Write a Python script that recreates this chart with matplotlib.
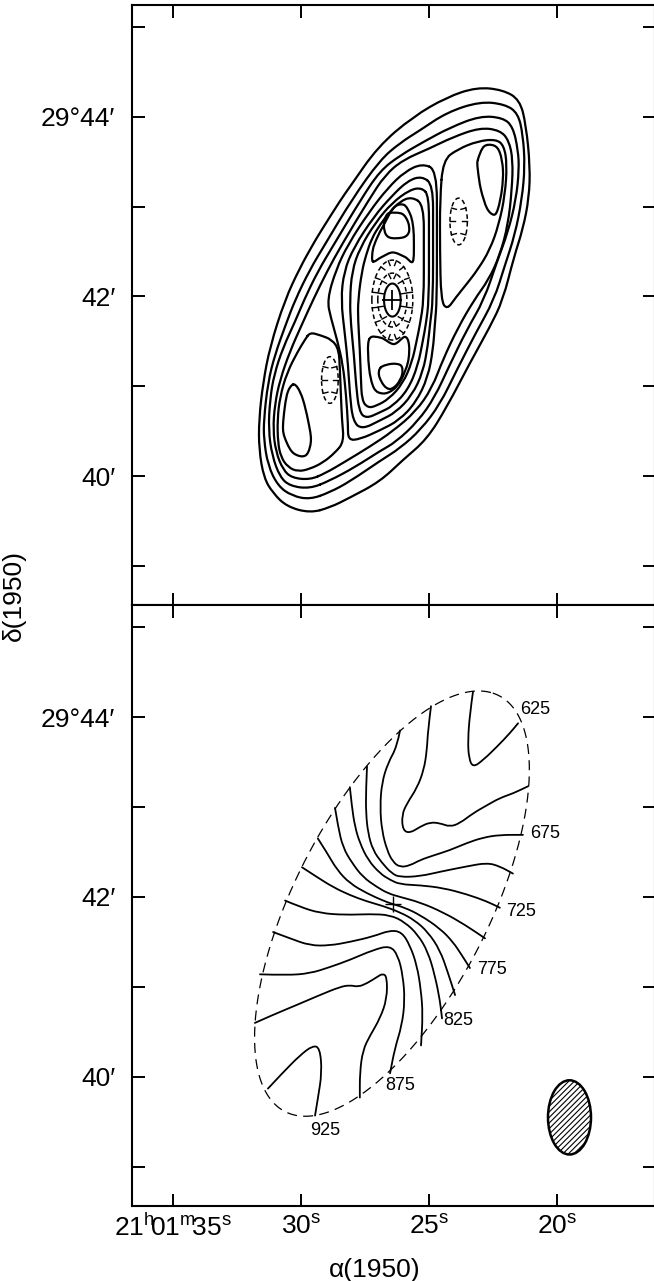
import numpy as np
import matplotlib
matplotlib.use("Agg")
import matplotlib.pyplot as plt
from matplotlib.patches import Ellipse, PathPatch
from matplotlib.path import Path

plt.rcParams['font.family'] = ['Liberation Sans', 'DejaVu Sans']
plt.rcParams['mathtext.fontset'] = 'custom'
plt.rcParams['mathtext.rm'] = 'Liberation Sans'
plt.rcParams['axes.linewidth'] = 1.5
plt.rcParams['hatch.linewidth'] = 0.8

# ---------------- axes ----------------
ra_lim = (36.60, 16.17)          # seconds of RA (21h01m..)
dec_lim = (38.565, 45.245)       # arcmin of Dec (29d..)
ra_ticks = [35, 30, 25, 20]
ra_labels = [r'$\mathrm{21^{h}\!01^{m}\!35^{s}}$', r'$\mathrm{30^{s}}$',
             r'$\mathrm{25^{s}}$', r'$\mathrm{20^{s}}$']
dec_ticks = [39, 40, 41, 42, 43, 44, 45]
dec_labels = ['', "40′", '', "42′", '', "29°44′", '']

# ---------------- top panel: total intensity contours (RA s, Dec arcmin) ----------------
top_c1 = [(29.65,39.59),(30.55,39.66),(31.09,39.81),(31.45,39.98),(31.64,40.30),(31.64,40.63),
          (31.48,41.04),(31.21,41.44),(30.63,41.96),(30.04,42.32),(29.53,42.58),(29.26,42.71),
          (28.44,43.08),(28.09,43.22),(26.99,43.67),(25.63,44.00),(24.30,44.22),(23.13,44.33),
          (22.11,44.30),(21.45,44.19),(21.21,43.91),(21.05,43.45),(21.09,43.10),(21.33,42.75),
          (21.68,42.44),(22.11,41.96),(22.62,41.66),(23.40,41.26),(24.30,40.77),(25.08,40.41),
          (26.02,40.18),(26.91,39.94),(28.09,39.76),(28.87,39.65)]
top_c2 = [(29.65,39.74),(30.35,39.78),(30.90,39.89),(31.29,40.12),(31.45,40.41),(31.45,40.63),
          (31.29,41.04),(31.02,41.35),(30.59,41.69),(30.23,41.96),(29.65,42.30),(29.06,42.58),
          (28.01,43.08),(26.91,43.52),(26.13,43.71),(25.35,43.85),(24.30,44.05),(23.01,44.17),
          (22.03,44.14),(21.52,44.04),(21.33,43.80),(21.25,43.45),(21.37,43.08),(21.64,42.69),
          (22.03,42.35),(22.46,41.96),(23.16,41.60),(23.95,41.16),(24.57,40.80),(25.31,40.52),
          (26.13,40.31),(26.91,40.17),(28.09,39.94),(28.87,39.82)]
top_c3 = [(29.65,39.86),(30.43,39.89),(30.82,39.99),(31.13,40.23),(31.27,40.52),(31.21,40.85),
          (31.05,41.13),(30.70,41.43),(30.23,41.72),(29.88,41.96),(29.34,42.28),(28.71,42.58),
          (27.66,43.08),(26.91,43.40),(26.13,43.57),(25.16,43.73),(24.18,43.88),(23.01,44.01),
          (22.11,43.99),(21.72,43.89),(21.52,43.63),(21.48,43.41),(21.60,43.08),(21.91,42.72),
          (22.34,42.39),(22.85,41.96),(23.52,41.63),(24.22,41.22),(24.77,40.88),(25.43,40.61),
          (26.29,40.38),(26.91,40.28),(27.89,40.10),(28.87,39.95)]
top_c4 = [(29.65,39.96),(30.35,39.98),(30.70,40.07),(30.98,40.27),(31.09,40.52),(31.02,40.80),
          (30.82,41.07),(30.43,41.39),(29.96,41.69),(29.53,41.96),(28.98,42.28),(28.40,42.58),
          (27.34,43.08),(26.72,43.35),(26.02,43.52),(24.96,43.65),(24.10,43.77),(23.01,43.88),
          (22.23,43.85),(21.88,43.74),(21.72,43.52),(21.76,43.19),(21.91,42.80),(22.23,42.46),
          (22.66,42.19),(23.24,41.96),(23.87,41.65),(24.45,41.30),(24.88,40.98),(25.51,40.72),
          (26.41,40.50),(27.30,40.33),(28.28,40.16),(29.06,40.03)]
top_ur_outer = [(24.45,43.52),(23.87,43.64),(23.09,43.73),(22.38,43.75),(22.07,43.68),(21.95,43.47),
                (22.03,43.13),(22.27,42.80),(22.62,42.52),(23.09,42.30),(23.55,42.13),(23.95,41.99),
                (24.30,41.85),(24.53,41.96),(24.57,42.52),(24.57,43.08)]
top_ur_peak = [(23.09,43.52),(22.85,43.67),(22.46,43.68),(22.23,43.60),(22.11,43.41),(22.15,43.19),
               (22.30,42.98),(22.46,42.91),(22.73,42.98),(22.97,43.19),(23.09,43.41)]
top_ll_outer = [(29.65,41.60),(29.26,41.57),(28.79,41.52),(28.52,41.41),(28.48,41.19),(28.44,40.91),
                (28.40,40.63),(28.32,40.38),(28.67,40.26),(29.14,40.15),(29.65,40.08),(30.12,40.05),
                (30.51,40.10),(30.78,40.21),(30.90,40.37),(30.92,40.63),(30.82,40.88),(30.55,41.15),
                (30.12,41.39),(29.84,41.52)]
top_ll_peak = [(30.31,41.02),(30.12,40.98),(29.92,40.85),(29.73,40.63),(29.61,40.41),(29.73,40.26),
               (29.96,40.22),(30.31,40.26),(30.55,40.37),(30.70,40.52),(30.63,40.77),(30.51,40.94)]
top_cr1 = [(24.69,43.41),(24.69,42.74),(24.69,41.96),(24.77,41.69),(24.84,41.41),(25.04,41.10),
           (25.51,40.82),(26.17,40.62),(26.91,40.51),(27.70,40.41),(28.16,40.40),(28.16,40.57),
           (28.24,40.91),(28.36,41.24),(28.59,41.52),(28.83,41.76),(28.98,41.96),(28.63,42.30),
           (28.16,42.58),(27.34,42.94),(26.60,43.21),(25.94,43.39),(25.27,43.48)]
top_cr2 = [(24.84,43.24),(24.84,42.74),(24.84,41.96),(24.96,41.69),(25.04,41.46),(25.23,41.16),
           (25.66,40.90),(26.29,40.71),(26.91,40.62),(27.62,40.52),(27.97,40.61),(28.09,40.91),
           (28.16,41.24),(28.28,41.57),(28.44,41.96),(28.32,42.28),(27.93,42.55),(27.15,42.89),
           (26.45,43.12),(25.82,43.29),(25.27,43.34)]
top_cr3 = [(25.00,43.12),(25.00,42.63),(25.00,41.96),(25.12,41.69),(25.23,41.52),(25.43,41.23),
           (25.82,40.96),(26.41,40.78),(26.91,40.71),(27.46,40.64),(27.73,40.72),(27.85,41.02),
           (27.93,41.35),(28.05,41.69),(28.09,41.96),(28.01,42.28),(27.70,42.54),(27.07,42.83),
           (26.45,43.04),(25.74,43.19),(25.27,43.21)]
top_cr4 = [(25.20,43.02),(25.20,42.52),(25.20,41.96),(25.35,41.69),(25.47,41.52),(25.66,41.27),
           (26.02,41.03),(26.56,40.86),(27.07,40.78),(27.38,40.76),(27.62,40.84),(27.66,41.10),
           (27.70,41.41),(27.77,41.74),(27.77,41.96),(27.62,42.28),(27.46,42.46),(27.23,42.65),
           (26.91,42.80),(26.56,42.93),(26.13,43.06),(25.66,43.11)]
top_up_cres = [(27.19,42.39),(27.19,42.52),(27.03,42.65),(26.76,42.80),(26.37,42.99),(25.98,43.02),
               (25.74,42.92),(25.63,42.80),(25.59,42.63),(25.63,42.39),(25.94,42.44),(26.41,42.49),
               (26.84,42.44)]
top_up_peak = [(26.52,42.93),(26.05,42.92),(25.82,42.83),(25.78,42.72),(25.98,42.66),(26.45,42.65),
               (26.68,42.69),(26.76,42.79),(26.68,42.89)]
top_lo_cres = [(27.34,41.52),(26.88,41.54),(26.37,41.47),(25.94,41.55),(25.78,41.46),(25.82,41.27),
               (26.09,41.07),(26.41,40.96),(26.80,40.92),(27.15,40.98),(27.34,41.21)]
top_lo_peak = [(26.88,41.21),(26.45,41.25),(26.09,41.23),(26.05,41.13),(26.25,41.02),(26.52,40.97),
               (26.76,41.01),(26.95,41.12)]
# broad, nested contours (drawn as smooth B-spline) and small closed features (drawn through points)
top_broad = [top_c1, top_c2, top_c3, top_c4, top_ur_outer, top_ll_outer,
             top_cr1, top_cr2, top_cr3, top_cr4]
top_small = [top_ur_peak, top_ll_peak, top_up_cres, top_up_peak, top_lo_cres, top_lo_peak]

# depressions (hachured): centre RA, centre Dec, semi-axis RA (s), semi-axis Dec (arcmin), n ticks
hach_centre = [26.43, 41.96]
hach_rings = [(26.43, 41.96, 0.80, 0.445, 16), (26.43, 41.96, 0.57, 0.30, 12),
              (23.84, 42.835, 0.34, 0.26, 6), (28.87, 41.07, 0.325, 0.26, 6)]
solid_core = (26.43, 41.96, 0.325, 0.184)

# ---------------- bottom panel: velocity field (km/s) ----------------
vel_levels = [625, 650, 675, 700, 725, 750, 775, 800, 825, 850, 875, 900, 925]
v625 = [(23.28,44.28),(23.40,44.04),(23.48,43.74),(23.44,43.54),(23.28,43.44),(22.89,43.52),
        (22.34,43.67),(21.84,43.82),(21.52,43.93)]
v650 = [(24.92,44.12),(25.04,43.85),(25.08,43.63),(25.20,43.41),(25.47,43.21),(25.86,43.04),
        (26.06,42.91),(26.02,42.74),(25.74,42.71),(25.35,42.78),(24.96,42.83),(24.57,42.82),
        (24.18,42.78),(23.79,42.82),(23.28,42.93),(22.73,43.02),(22.23,43.10),(21.72,43.15),(21.13,43.23)]
v675 = [(26.13,43.85),(26.25,43.67),(26.60,43.49),(26.84,43.27),(26.91,43.00),(26.84,42.74),
        (26.64,42.52),(26.41,42.39),(26.13,42.33),(25.74,42.35),(25.35,42.41),(24.84,42.46),
        (24.18,42.52),(23.52,42.60),(22.89,42.66),(22.23,42.69),(21.33,42.69)]
v700 = [(27.42,43.45),(27.46,43.19),(27.46,42.93),(27.38,42.71),(27.19,42.52),(26.84,42.38),
        (26.45,42.26),(26.13,42.22),(25.35,42.23),(24.57,42.28),(23.52,42.34),(22.73,42.38),
        (22.23,42.34),(21.72,42.26)]
v725 = [(28.09,43.22),(28.01,43.00),(27.89,42.78),(27.70,42.60),(27.38,42.41),(26.91,42.26),
        (26.52,42.19),(26.13,42.14),(25.35,42.13),(24.45,42.10),(23.52,42.03),(22.73,41.95),(22.23,41.88)]
v750 = [(28.67,42.99),(28.55,42.78),(28.36,42.55),(28.01,42.38),(27.58,42.22),(27.03,42.11),
        (26.60,42.04),(26.13,42.00),(25.35,41.94),(24.45,41.83),(23.59,41.69),(22.81,41.54)]
v775 = [(29.34,42.65),(28.98,42.49),(28.59,42.30),(28.09,42.15),(27.42,42.04),(26.80,41.96),
        (26.41,41.92),(25.94,41.88),(25.35,41.80),(24.57,41.65),(24.06,41.50),(23.71,41.35),(23.40,41.21)]
v800 = [(29.96,42.33),(29.37,42.22),(28.75,42.11),(28.09,42.02),(27.42,41.95),(26.80,41.90),
        (26.13,41.83),(25.55,41.74),(25.04,41.61),(24.57,41.41),(24.26,41.16),(23.98,40.91)]
v825 = [(30.62,41.96),(30.04,41.89),(29.26,41.82),(28.28,41.80),(27.30,41.81),(26.52,41.80),
        (25.94,41.72),(25.43,41.58),(25.04,41.39),(24.77,41.13),(24.57,40.85),(24.49,40.65)]
v850 = [(31.09,41.61),(30.43,41.54),(29.65,41.46),(28.87,41.46),(28.09,41.50),(27.19,41.56),
        (26.52,41.63),(26.06,41.61),(25.74,41.46),(25.47,41.24),(25.31,40.96),(25.24,40.69),(25.31,40.35)]
v875 = [(31.60,41.14),(30.55,41.13),(29.65,41.15),(28.87,41.22),(28.09,41.30),(27.19,41.41),
        (26.52,41.46),(26.21,41.35),(26.02,41.13),(25.94,40.85),(26.06,40.57),(26.33,40.32),(26.52,40.04)]
v900 = [(31.80,40.60),(31.09,40.69),(30.16,40.80),(29.26,40.91),(28.48,41.00),(28.09,41.02),
        (27.77,41.00),(27.42,41.04),(27.03,41.11),(26.80,41.15),(26.64,41.11),(26.64,40.87),
        (26.91,40.65),(27.30,40.46),(27.58,40.30),(27.70,40.05),(27.70,39.77)]
v925 = [(31.29,39.87),(30.70,40.05),(30.04,40.24),(29.53,40.35),(29.26,40.32),(29.18,40.05),
        (29.34,39.76),(29.45,39.57)]
vel_lines = [v625, v650, v675, v700, v725, v750, v775, v800, v825, v850, v875, v900, v925]
vel_label_text = ['625', '675', '725', '775', '825', '875', '925']
vel_label_ra = [21.45, 21.05, 21.99, 23.13, 24.45, 26.72, 29.65]
vel_label_dec = [44.08, 42.70, 41.84, 41.19, 40.63, 39.90, 39.40]

# map window: centre RA, centre Dec, semi-major ("), semi-minor ("), angle of major axis from W (deg)
window = (26.445, 41.926, 149.5, 51.5, 70.3)
dec0_deg = 29.7
kin_centre = (26.41, 41.92)
beam = (19.51, 39.55, 1.68, 0.825)   # centre RA, Dec, full width (s), full height (arcmin)

# ---------------- figure ----------------
W, H = 654, 1281
fig = plt.figure(figsize=(W/100, H/100), dpi=100)
left = 132/W
width = (655-132)/W
ax_top = fig.add_axes([left, (H-605)/H, width, 600/H])
ax_bot = fig.add_axes([left, (H-1206)/H, width, 601/H])

for ax in (ax_top, ax_bot):
    ax.set_xlim(*ra_lim)
    ax.set_ylim(*dec_lim)
    ax.set_xticks(ra_ticks)
    ax.set_yticks(dec_ticks)
    ax.set_yticklabels(dec_labels)
    ax.tick_params(direction='in', length=9, width=1.4, top=True, right=True,
                   labelsize=19, pad=12)
    for s in ax.spines.values():
        s.set_linewidth(1.5)
ax_top.set_xticklabels([])
ax_bot.set_xticklabels(ra_labels)
ax_bot.tick_params(axis='x', pad=6)


def bspline_path(pts, closed):
    """Quadratic B-spline rendering of a traced polyline (vertices act as control points)."""
    P = np.asarray(pts, float)
    if closed:
        mids = (P + np.roll(P, -1, axis=0)) / 2.0
        verts = [mids[-1]]
        codes = [Path.MOVETO]
        for i in range(len(P)):
            verts += [P[i], mids[i]]
            codes += [Path.CURVE3, Path.CURVE3]
    else:
        mids = (P[:-1] + P[1:]) / 2.0
        verts = [P[0]]
        codes = [Path.MOVETO]
        for i in range(1, len(P) - 1):
            verts += [P[i], mids[i]]
            codes += [Path.CURVE3, Path.CURVE3]
        verts.append(P[-1])
        codes.append(Path.LINETO)
    return Path(verts, codes)


def catmull_path(pts):
    """Closed Catmull-Rom curve through the traced vertices (cubic Bezier segments)."""
    P = np.asarray(pts, float)
    n = len(P)
    verts = [P[0]]
    codes = [Path.MOVETO]
    for i in range(n):
        p0, p1, p2, p3 = P[(i-1) % n], P[i], P[(i+1) % n], P[(i+2) % n]
        verts += [p1 + (p2 - p0) / 6.0, p2 - (p3 - p1) / 6.0, p2]
        codes += [Path.CURVE4] * 3
    return Path(verts, codes)


def draw_path(ax, path, lw):
    ax.add_patch(PathPatch(path, facecolor='none', edgecolor='black',
                           lw=lw, joinstyle='round', capstyle='round'))


for c in top_broad:
    draw_path(ax_top, bspline_path(c, True), 1.6)
for c in top_small:
    draw_path(ax_top, catmull_path(c), 1.6)

# hachured depression rings
sx = ax_top.bbox.width / abs(ra_lim[1]-ra_lim[0])      # px per s
sy = ax_top.bbox.height / abs(dec_lim[1]-dec_lim[0])   # px per arcmin
for (rc, dc, a, b, n) in hach_rings:
    t = np.linspace(0, 2*np.pi, 200)
    ax_top.plot(rc + a*np.cos(t), dc + b*np.sin(t), color='black', lw=1.1,
                linestyle=(0, (3, 2)))
    if n <= 6:
        tt = np.radians([0, 35, -35, 180, 145, 215])
    else:
        tt = np.linspace(0, 2*np.pi, n, endpoint=False) + np.pi/n
    for ti in tt:
        x0, y0 = rc + a*np.cos(ti), dc + b*np.sin(ti)
        nx, ny = np.cos(ti)/(a*sx), np.sin(ti)/(b*sy)
        nn = np.hypot(nx, ny)
        L = 5.0
        dxp, dyp = -nx/nn*L, -ny/nn*L
        ax_top.plot([x0, x0 + dxp/sx], [y0, y0 + dyp/sy], color='black', lw=1.0)
rc, dc, a, b = solid_core
t = np.linspace(0, 2*np.pi, 200)
ax_top.plot(rc + a*np.cos(t), dc + b*np.sin(t), color='black', lw=1.5)
ax_top.plot([hach_centre[0]], [hach_centre[1]], marker='+', ms=14, mew=1.3, color='black')

# bottom panel
for ln in vel_lines:
    draw_path(ax_bot, bspline_path(ln, False), 1.3)
rc, dc, a, b, ang = window
t = np.linspace(0, 2*np.pi, 400)
phi = np.radians(ang)
xw = a*np.cos(t)*np.cos(phi) - b*np.sin(t)*np.sin(phi)
yn = a*np.cos(t)*np.sin(phi) + b*np.sin(t)*np.cos(phi)
ax_bot.plot(rc - xw/(15*np.cos(np.radians(dec0_deg))), dc + yn/60.0, color='black',
            lw=0.9, linestyle=(0, (8, 5)))
ax_bot.plot([kin_centre[0]], [kin_centre[1]], marker='+', ms=11, mew=1.0, color='black')
for txt, xr, yd in zip(vel_label_text, vel_label_ra, vel_label_dec):
    ax_bot.text(xr, yd, txt, fontsize=13, ha='left', va='center')
ax_bot.add_patch(Ellipse((beam[0], beam[1]), beam[2], beam[3], facecolor='none',
                         edgecolor='black', lw=1.8, hatch='//////'))

fig.text(14/W, 1-595/H, 'δ(1950)', rotation=90, ha='center', va='center', fontsize=19)
fig.text(375/W, 1-1270/H, 'α(1950)', ha='center', va='center', fontsize=19)

fig.savefig('out.png', dpi=100)
